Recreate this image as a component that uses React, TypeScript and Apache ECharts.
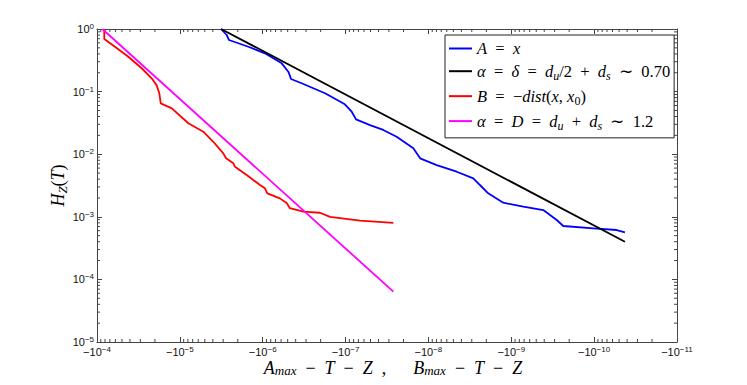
import React, { useEffect, useRef } from "react";
import * as echarts from "echarts";

// |x| values (the axis shows -|x|), and y values
const blueX = [3.18e-6, 2.72e-6, 2.55e-6, 1.49e-6, 9.4e-7, 5.9e-7, 4.91e-7, 4.7e-7, 4.56e-7, 3.39e-7, 1.77e-7, 1.02e-7, 8.43e-8, 7.48e-8, 5.07e-8, 3.51e-8, 2.42e-8, 1.52e-8, 1.26e-8, 7.95e-9, 4.56e-9, 2.87e-9, 2.39e-9, 1.9e-9, 1.25e-9, 7.17e-10, 4.11e-10, 3.41e-10, 2.83e-10, 2.36e-10, 1.02e-10, 5.34e-11, 4.25e-11];
const blueY = [1, 0.802, 0.667, 0.521, 0.409, 0.283, 0.208, 0.18, 0.159, 0.136, 0.094, 0.0627, 0.0477, 0.036, 0.0292, 0.0244, 0.019, 0.0124, 0.0086, 0.0067, 0.00525, 0.00412, 0.00322, 0.00237, 0.00168, 0.00145, 0.00128, 0.00107, 0.00089, 0.000713, 0.000655, 0.000615, 0.000565];

const blackX = [3.18e-6, 4.25e-11];
const blackY = [1, 4.0e-4];

const redX = [8.17e-5, 8.17e-5, 6.07e-5, 4.19e-5, 2.89e-5, 2.19e-5, 1.91e-5, 1.77e-5, 1.7e-5, 1.25e-5, 7.9e-6, 5.21e-6, 3.95e-6, 2.99e-6, 2.77e-6, 2.26e-6, 2.16e-6, 1.56e-6, 1.08e-6, 9.4e-7, 8.8e-7, 6.2e-7, 5.1e-7, 4.7e-7, 3.24e-7, 2.04e-7, 1.54e-7, 6.7e-8, 2.65e-8];
const redY = [1, 0.69, 0.521, 0.361, 0.236, 0.163, 0.127, 0.094, 0.065, 0.054, 0.0312, 0.0229, 0.0158, 0.0103, 0.0086, 0.00715, 0.0063, 0.00466, 0.00322, 0.00285, 0.00237, 0.00197, 0.00164, 0.00137, 0.00121, 0.00116, 0.001, 0.00087, 0.0008];

const magentaX = [8.63e-5, 2.65e-8];
const magentaY = [1, 6.37e-5];

const seriesNames = [
  "A = x",
  "α = δ = d_u/2 + d_s ∼ 0.70",
  "B = −dist(x, x_0)",
  "α = D = d_u + d_s ∼ 1.2",
];
const seriesColors = ["#0000ff", "#000000", "#ff0000", "#ff00ff"];

const xExponents = [-4, -5, -6, -7, -8, -9, -10, -11];
const yExponents = [0, -1, -2, -3, -4, -5];

const SP = "\u2002"; // wide math spacing
const MSP = "\u2005";
const legendRich: Record<string, string> = {
  [seriesNames[0]]: `{i|A}{r|${SP}=${SP}}{i|x}`,
  [seriesNames[1]]: `{i|α}{r|${SP}=${SP}}{i|δ}{r|${SP}=${SP}}{i|d}{s|u}{r|/2${SP}+${SP}}{i|d}{s|s}{r|${SP}∼${SP}0.70}`,
  [seriesNames[2]]: `{i|B}{r|${SP}=${SP}−}{i|dist}{r|(}{i|x}{r|,${MSP}}{i|x}{s0|0}{r|)}`,
  [seriesNames[3]]: `{i|α}{r|${SP}=${SP}}{i|D}{r|${SP}=${SP}}{i|d}{s|u}{r|${SP}+${SP}}{i|d}{s|s}{r|${SP}∼${SP}1.2}`,
};

const zip = (xs: number[], ys: number[]) => xs.map((x, i) => [x, ys[i]]);
const fmtExp = (e: number) => (e < 0 ? "−" + Math.abs(e) : String(e));

export default function App() {
  const ref = useRef<HTMLDivElement>(null);
  useEffect(() => {
    if (!ref.current) return;
    const chart = echarts.init(ref.current, null, { renderer: "svg" });
    const xMin = Math.pow(10, Math.min(...xExponents));
    const xMax = Math.pow(10, Math.max(...xExponents));
    const yMin = Math.pow(10, Math.min(...yExponents));
    const yMax = Math.pow(10, Math.max(...yExponents));

    const minorX: number[] = [];
    for (let e = Math.min(...xExponents); e < Math.max(...xExponents); e++)
      for (let m = 2; m <= 9; m++) minorX.push(m * Math.pow(10, e));
    const minorY: number[] = [];
    for (let e = Math.min(...yExponents); e < Math.max(...yExponents); e++)
      for (let m = 2; m <= 9; m++) minorY.push(m * Math.pow(10, e));

    const axisColor = "#444";
    const tickLabelRich = {
      a: { fontFamily: "Liberation Sans", fontSize: 11, color: "#111", lineHeight: 13 },
      b: { fontFamily: "Liberation Sans", fontSize: 8, color: "#111", lineHeight: 7, verticalAlign: "top" },
    };
    const mathRich = (size: number, lh: number) => ({
      i: { fontFamily: "Liberation Serif", fontStyle: "italic", fontSize: size, color: "#000", lineHeight: lh },
      r: { fontFamily: "Liberation Serif", fontSize: size, color: "#000", lineHeight: lh },
      s: { fontFamily: "Liberation Serif", fontStyle: "italic", fontSize: Math.round(size * 0.7), color: "#000", lineHeight: Math.round(size * 0.7), verticalAlign: "bottom" },
      s0: { fontFamily: "Liberation Serif", fontSize: Math.round(size * 0.7), color: "#000", lineHeight: Math.round(size * 0.7), verticalAlign: "bottom" },
    });

    const baseX = {
      type: "log",
      logBase: 10,
      min: xMin,
      max: xMax,
      interval: 1,
      inverse: true,
      axisLine: { show: true, lineStyle: { color: axisColor, width: 1 } },
      axisTick: { show: true, inside: true, length: 5, lineStyle: { color: axisColor } },
      splitLine: { show: false },
    };
    const baseY = {
      type: "log",
      logBase: 10,
      min: yMin,
      max: yMax,
      interval: 1,
      axisLine: { show: true, lineStyle: { color: axisColor, width: 1 } },
      axisTick: { show: true, inside: true, length: 5, lineStyle: { color: axisColor } },
      splitLine: { show: false },
    };

    const minorStyle = { stroke: axisColor, lineWidth: 1 };

    chart.setOption({
      animation: false,
      backgroundColor: "#ffffff",
      grid: { left: 97, top: 29, width: 580, height: 313, containLabel: false, outerBoundsMode: "none" },
      legend: {
        data: seriesNames,
        orient: "vertical",
        left: 445,
        top: 35,
        padding: [5, 4, 6, 4],
        itemGap: 5.7,
        itemWidth: 23,
        itemHeight: 2,
        icon: "rect",
        backgroundColor: "#ffffff",
        borderColor: "#222",
        borderWidth: 1,
        borderRadius: 0,
        formatter: (name: string) => legendRich[name] || name,
        textStyle: { rich: mathRich(16.5, 21.5) },
      },
      xAxis: [
        {
          ...baseX,
          position: "bottom",
          name: `{i|A}{s|max}{r|${SP}−${SP}}{i|T}{r|${SP}−${SP}}{i|Z}{r|  ,      }{i|B}{s|max}{r|${SP}−${SP}}{i|T}{r|${SP}−${SP}}{i|Z}`,
          nameLocation: "middle",
          nameGap: 16,
          nameMoveOverlap: false,
          nameTextStyle: { rich: mathRich(18, 19), padding: [0, 0, 0, 12] },
          axisLabel: {
            show: true,
            margin: 3,
            formatter: (v: number) => `{a|−10}{b|${fmtExp(Math.round(Math.log10(v)))}}`,
            rich: tickLabelRich,
            showMinLabel: true,
            showMaxLabel: true,
          },
        },
        { ...baseX, position: "top", axisLabel: { show: false } },
      ],
      yAxis: [
        {
          ...baseY,
          position: "left",
          name: "{i|H}{s|Z}{r|(}{i|T}{r|)}",
          nameLocation: "middle",
          nameGap: 28,
          nameMoveOverlap: false,
          nameTextStyle: { rich: mathRich(18, 23) },
          axisLabel: {
            show: true,
            margin: 3,
            formatter: (v: number) => `{a|10}{b|${fmtExp(Math.round(Math.log10(v)))}}`,
            rich: tickLabelRich,
            showMinLabel: true,
            showMaxLabel: true,
          },
        },
        { ...baseY, position: "right", axisLabel: { show: false } },
      ],
      series: [
        {
          name: "minorX",
          type: "custom",
          xAxisIndex: 0,
          yAxisIndex: 0,
          clip: false,
          silent: true,
          data: minorX.map((v) => [v, 0.01]),
          encode: { x: 0, y: 1 },
          renderItem: (_p: any, api: any) => {
            const v = api.value(0);
            const b = api.coord([v, yMin]);
            const t = api.coord([v, yMax]);
            return {
              type: "group",
              children: [
                { type: "line", shape: { x1: b[0], y1: b[1], x2: b[0], y2: b[1] - 3 }, style: minorStyle },
                { type: "line", shape: { x1: t[0], y1: t[1], x2: t[0], y2: t[1] + 3 }, style: minorStyle },
              ],
            };
          },
        },
        {
          name: "minorY",
          type: "custom",
          xAxisIndex: 0,
          yAxisIndex: 0,
          clip: false,
          silent: true,
          data: minorY.map((v) => [1e-6, v]),
          encode: { x: 0, y: 1 },
          renderItem: (_p: any, api: any) => {
            const v = api.value(1);
            const l = api.coord([xMax, v]);
            const r = api.coord([xMin, v]);
            return {
              type: "group",
              children: [
                { type: "line", shape: { x1: l[0], y1: l[1], x2: l[0] + 3, y2: l[1] }, style: minorStyle },
                { type: "line", shape: { x1: r[0], y1: r[1], x2: r[0] - 3, y2: r[1] }, style: minorStyle },
              ],
            };
          },
        },
        ...[
          zip(blueX, blueY),
          zip(blackX, blackY),
          zip(redX, redY),
          zip(magentaX, magentaY),
        ].map((d, i) => ({
          name: seriesNames[i],
          type: "line",
          data: d,
          symbol: "none",
          showSymbol: false,
          smooth: false,
          color: seriesColors[i],
          lineStyle: { color: seriesColors[i], width: 1.8 },
          clip: true,
          z: 3,
        })),
      ],
    } as any);
    return () => chart.dispose();
  }, []);
  return (
    <div
      ref={ref}
      style={{ position: "fixed", left: 0, top: 0, width: 747, height: 385, background: "#fff" }}
    />
  );
}
